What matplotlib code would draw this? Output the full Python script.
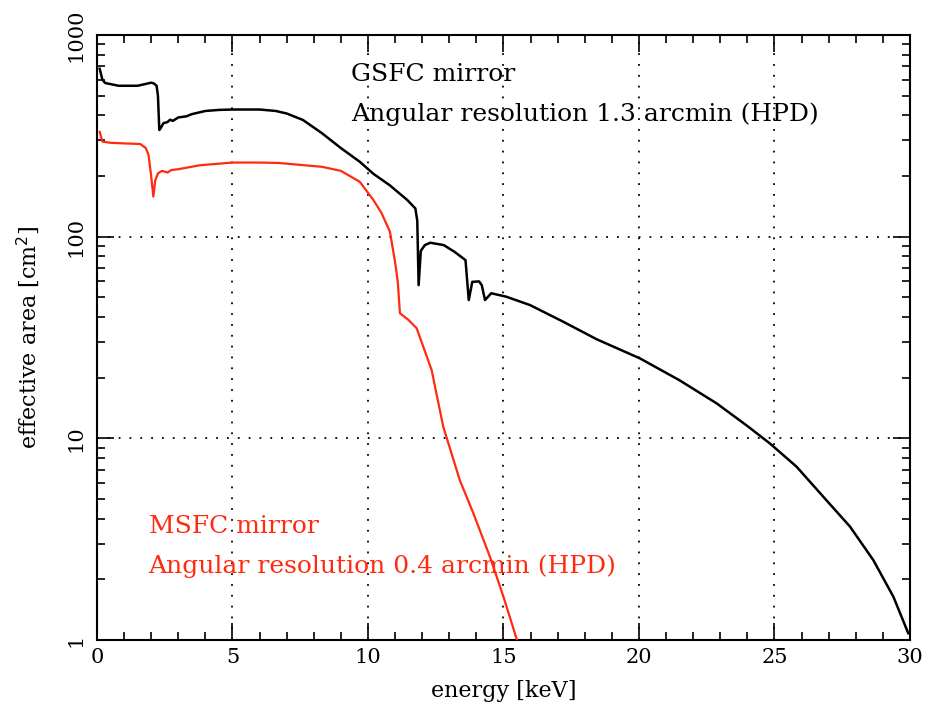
import numpy as np
import matplotlib
matplotlib.use("Agg")
import matplotlib.pyplot as plt
from matplotlib.ticker import LogLocator, MultipleLocator, FixedLocator

# GSFC mirror effective area (keV, cm^2)
gsfc_energy = [0.1, 0.2, 0.3, 0.8, 1.5, 2.0, 2.1, 2.2, 2.25, 2.3, 2.35, 2.45, 2.6,
               2.7, 2.8, 3.0, 3.3, 3.5, 4.0, 4.5, 5.0, 6.0, 6.6, 7.0, 7.6, 8.3,
               9.0, 9.7, 10.2, 10.8, 11.45, 11.75, 11.82, 11.87, 11.95, 12.1,
               12.3, 12.8, 13.2, 13.6, 13.72, 13.85, 14.1, 14.2, 14.32, 14.55,
               15.1, 15.98, 17.2, 18.44, 20.04, 21.5, 22.87, 23.97, 24.83,
               25.82, 26.8, 27.79, 28.65, 29.39, 29.94]
gsfc_area = [680, 600, 578, 560, 560, 580, 575, 560, 500, 338, 345, 365, 370,
             380, 375, 390, 395, 405, 420, 425, 427, 427, 420, 408, 379, 326,
             275, 235, 205, 180, 152, 138, 120, 57.5, 85, 90.8,
             93.3, 90.8, 84, 76.5, 48.5, 59.7, 60, 57.5, 48.5, 52.4,
             50.4, 45.8, 37.9, 31.0, 24.9, 19.4, 14.9, 11.6, 9.44,
             7.23, 5.14, 3.65, 2.49, 1.64, 1.08]

# MSFC mirror effective area (keV, cm^2)
msfc_energy = [0.1, 0.2, 0.5, 1.0, 1.6, 1.8, 1.9, 2.0, 2.08, 2.15, 2.25, 2.4,
               2.6, 2.75, 3.0, 3.8, 5.0, 6.0, 6.7, 8.3, 9.0, 9.7, 10.2, 10.5,
               10.81, 11.0, 11.1, 11.18, 11.5, 11.8, 12.35, 12.78, 13.39, 13.89,
               14.5, 15.0, 15.5]
msfc_area = [331, 296, 292, 290, 288, 275, 255, 200, 158, 190, 206, 212,
             208, 214, 216, 226, 233, 233, 232, 222, 212, 187, 152, 131,
             106, 75, 60, 41.7, 38.6, 35.1, 21.8, 11.4, 6.2, 4.25,
             2.59, 1.64, 1.0]

serif = "DejaVu Serif"
red = "#ff2a10"

fig = plt.figure(figsize=(9.28, 7.08), dpi=100)
ax = fig.add_axes([0.1045, 0.096, 0.876, 0.8546])

ax.plot(gsfc_energy, gsfc_area, color="black", lw=1.8, zorder=3)
ax.plot(msfc_energy, msfc_area, color=red, lw=1.6, zorder=3)

ax.set_yscale("log")
ax.set_xlim(0, 30)
ax.set_ylim(1, 1000)

# dotted grid only at the inner major ticks
for gx in [5, 10, 15, 20, 25]:
    ax.axvline(gx, color="black", lw=1.3, ls=(0, (1, 5)), zorder=1)
for gy in [10, 100]:
    ax.axhline(gy, color="black", lw=1.3, ls=(0, (1, 5)), zorder=1)

ax.xaxis.set_major_locator(MultipleLocator(5))
ax.xaxis.set_minor_locator(MultipleLocator(1))
ax.yaxis.set_major_locator(FixedLocator([1, 10, 100, 1000]))
ax.yaxis.set_minor_locator(LogLocator(base=10, subs=np.arange(2, 10)))
ax.yaxis.set_minor_formatter(plt.NullFormatter())
ax.set_yticklabels(["1", "10", "100", "1000"])

ax.tick_params(which="both", direction="in", top=True, right=True,
               labelsize=15, width=1.2)
ax.tick_params(which="major", length=12)
ax.tick_params(which="minor", length=6)
for lbl in ax.get_xticklabels() + ax.get_yticklabels():
    lbl.set_fontfamily(serif)
for lbl in ax.get_yticklabels():
    lbl.set_rotation(90)
    lbl.set_va("center")
ax.tick_params(axis="x", pad=6)
ax.tick_params(axis="y", pad=8)

for sp in ax.spines.values():
    sp.set_linewidth(1.5)

ax.set_xlabel("energy [keV]", fontsize=16, family=serif, labelpad=9)
ax.set_ylabel("effective area [cm$^2$]", fontsize=16, family=serif, labelpad=18)

ax.text(0.3125, 0.934, "GSFC mirror", transform=ax.transAxes, fontsize=18,
        family=serif, va="center", ha="left")
ax.text(0.3125, 0.869, "Angular resolution 1.3 arcmin (HPD)", transform=ax.transAxes,
        fontsize=18, family=serif, va="center", ha="left")
ax.text(0.0635, 0.187, "MSFC mirror", transform=ax.transAxes, fontsize=18,
        family=serif, va="center", ha="left", color=red)
ax.text(0.0635, 0.122, "Angular resolution 0.4 arcmin (HPD)", transform=ax.transAxes,
        fontsize=18, family=serif, va="center", ha="left", color=red)

fig.savefig("out.png", dpi=100)
